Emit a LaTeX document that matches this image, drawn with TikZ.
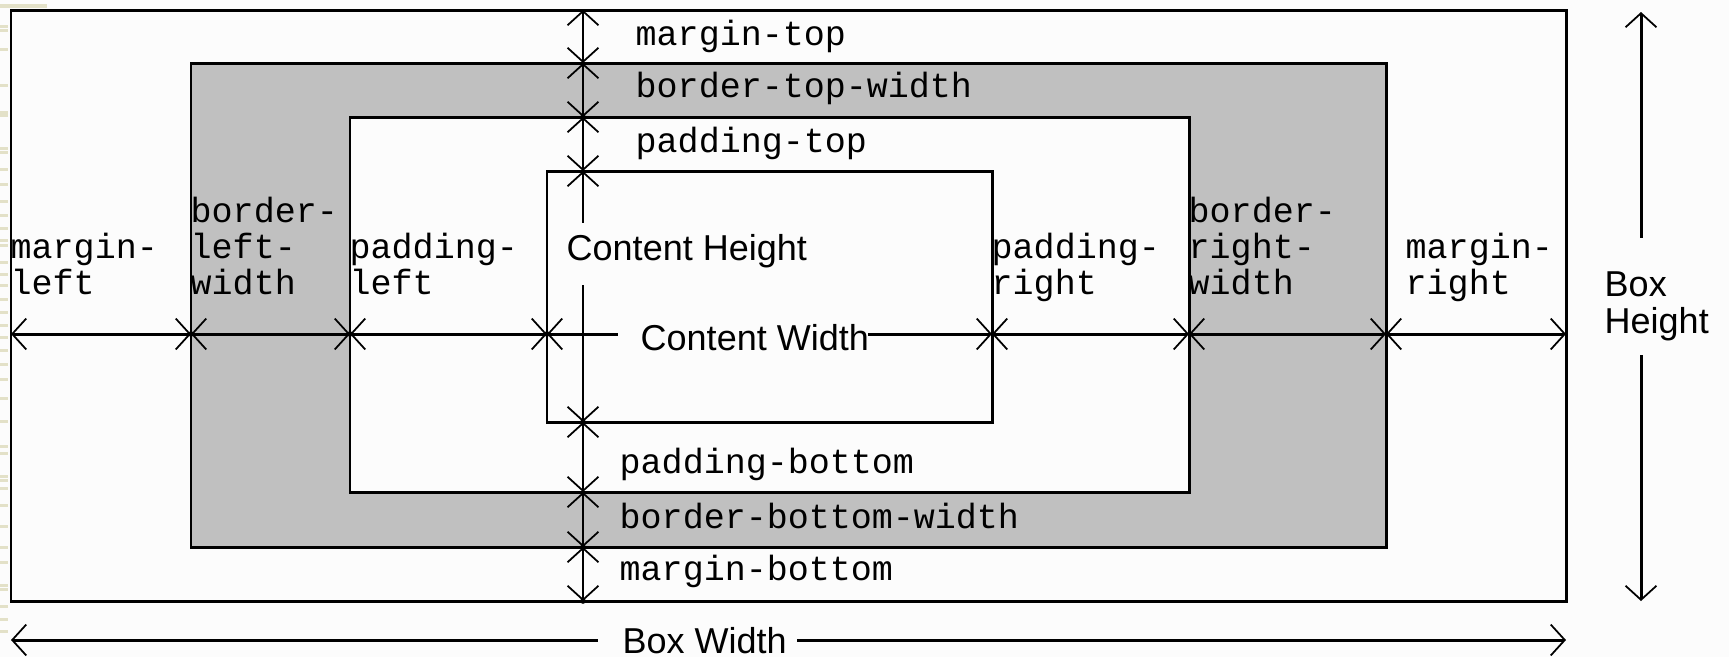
\documentclass[tikz,border=0pt]{standalone}
\usepackage{fontspec}
\newfontfamily\monof{Liberation Mono}
\newfontfamily\sansf{Liberation Sans}
\usetikzlibrary{arrows.meta}
\definecolor{bg}{HTML}{FCFCFC}
\definecolor{bordergray}{HTML}{C0C0C0}
\definecolor{beige}{HTML}{E3E1C8}
\begin{document}
\begin{tikzpicture}[x=0.01cm,y=-0.01cm,
  box/.style={draw=black,line width=0.85pt},
  dim/.style={line width=0.85pt,{Straight Barb[length=4pt,width=8.8pt,line width=0.5pt]}-{Straight Barb[length=4pt,width=8.8pt,line width=0.5pt]}},
  dimL/.style={line width=0.85pt,{Straight Barb[length=4pt,width=8.8pt,line width=0.5pt]}-},
  dimR/.style={line width=0.85pt,-{Straight Barb[length=4pt,width=8.8pt,line width=0.5pt]}},
  mono/.style={font=\monof\fontsize{9.96pt}{10.1pt}\selectfont, inner sep=0pt, anchor=base west, align=left},
  sans/.style={font=\sansf\fontsize{10.24pt}{10.24pt}\selectfont, inner sep=0pt, anchor=base west, align=left},
  jdot/.style={fill=black, circle, inner sep=0pt, minimum size=1.6pt},
  artifact/.style={fill=beige, draw=none}
]
\useasboundingbox (0,0) rectangle (1729,657);
\fill[bg] (0,0) rectangle (1729,657);
% left-edge decoration of the source slide
\fill[artifact] (0,4) rectangle (47,8);
\foreach \yy in {25,29,48,84,111,114,147,151,168,183,200,214,227,239,244,261,273,284,298,311,324,336,349,363,378,397,420,445,452,475,479,487,504,525,546,561,584,588,605,618,630}
  \fill[artifact] (0,\yy) rectangle (8,\yy+3);

% boxes
\draw[box] (11,10) rectangle (1566,601);
\draw[box, fill=bordergray] (191,63) rectangle (1386,547);
\draw[box, fill=bg] (350,117) rectangle (1189,492);
\draw[box] (547,171) rectangle (992,422);

% junction coordinates: vertical line
\coordinate (v0) at (583,10);
\coordinate (v1) at (583,63);
\coordinate (v2) at (583,117);
\coordinate (v3) at (583,171);
\coordinate (v3a) at (583,223);
\coordinate (v3b) at (583,285);
\coordinate (v4) at (583,422);
\coordinate (v5) at (583,492);
\coordinate (v6) at (583,547);
\coordinate (v7) at (583,601);
% horizontal line
\coordinate (h0) at (11,334);
\coordinate (h1) at (191,334);
\coordinate (h2) at (350,334);
\coordinate (h3) at (547,334);
\coordinate (h3a) at (618,334);
\coordinate (h3b) at (868,334);
\coordinate (h4) at (992,334);
\coordinate (h5) at (1189,334);
\coordinate (h6) at (1386,334);
\coordinate (h7) at (1566,334);
% box width / height
\coordinate (bw0) at (11,640);
\coordinate (bwa) at (598,640);
\coordinate (bwb) at (797,640);
\coordinate (bw1) at (1566,640);
\coordinate (bh0) at (1641,12);
\coordinate (bha) at (1641,238);
\coordinate (bhb) at (1641,355);
\coordinate (bh1) at (1641,601);

% vertical dimensions
\draw[dim] (v0) -- (v1);
\draw[dim] (v1) -- (v2);
\draw[dim] (v2) -- (v3);
\draw[dimL] (v3) -- (v3a);
\draw[dimR] (v3b) -- (v4);
\draw[dim] (v4) -- (v5);
\draw[dim] (v5) -- (v6);
\draw[dim] (v6) -- (v7);
% horizontal dimensions
\draw[dim] (h0) -- (h1);
\draw[dim] (h1) -- (h2);
\draw[dim] (h2) -- (h3);
\draw[dimL] (h3) -- (h3a);
\draw[dimR] (h3b) -- (h4);
\draw[dim] (h4) -- (h5);
\draw[dim] (h5) -- (h6);
\draw[dim] (h6) -- (h7);
% overall
\draw[dimL] (bw0) -- (bwa);
\draw[dimR] (bwb) -- (bw1);
\draw[dimL] (bh0) -- (bha);
\draw[dimR] (bhb) -- (bh1);

% junction dots
\foreach \p in {h1,h2,h3,v2,v4,v6,v7}
  \node[jdot] at (\p) {};

% labels (multi-line nodes: base = baseline of last line)
\node[mono] (mt) at (635,45) {margin-top};
\node[mono] (bt) at (635,97) {border-top-width};
\node[mono] (pt) at (635,152) {padding-top};
\node[mono] (pb) at (619,473) {padding-bottom};
\node[mono] (bb) at (619,528) {border-bottom-width};
\node[mono] (mb) at (619,580) {margin-bottom};
\node[mono] (ml) at (10,294) {margin-\\left};
\node[mono] (bl) at (190,294) {border-\\left-\\width};
\node[mono] (pl) at (349,294) {padding-\\left};
\node[mono] (pr) at (991,294) {padding-\\right};
\node[mono] (br) at (1188,294) {border-\\right-\\width};
\node[mono] (mr) at (1405,294) {margin-\\right};
\node[sans] (ch) at (566,260) {Content Height};
\node[sans] (cw) at (640,350) {Content Width};
\node[sans] (bw) at (622,653) {Box Width};
\node[sans] (bh) at (1604,333) {Box\\Height};
\end{tikzpicture}
\end{document}
